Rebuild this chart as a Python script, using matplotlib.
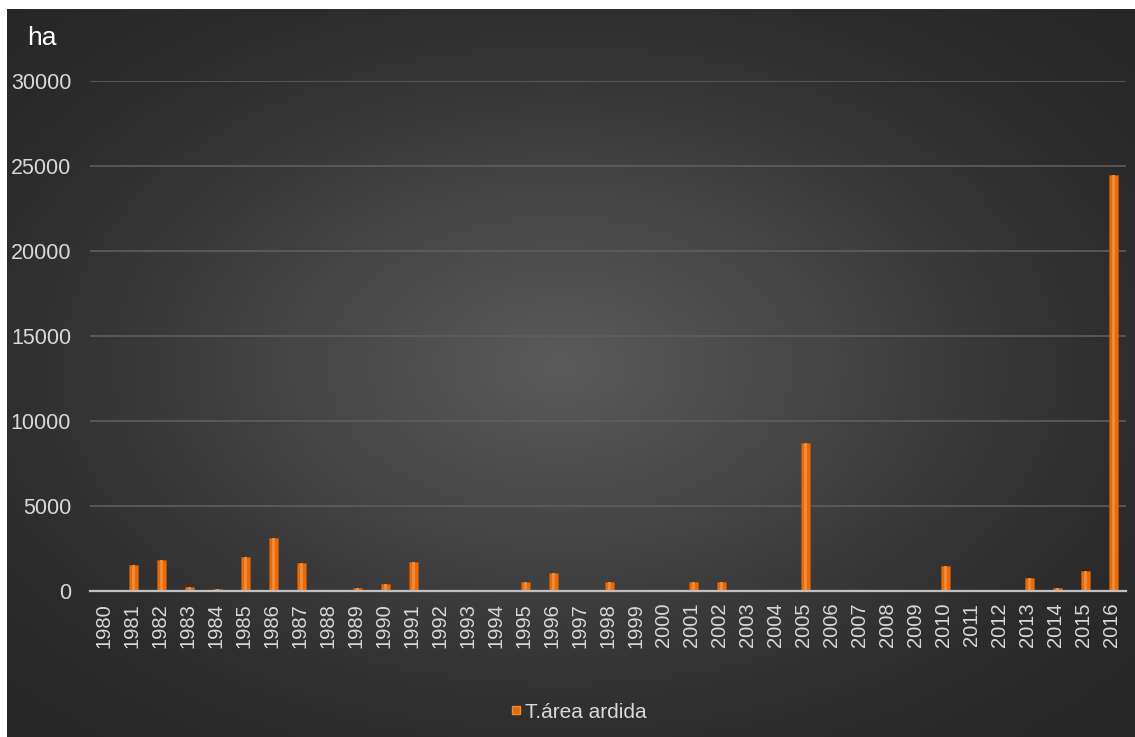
import matplotlib
matplotlib.use("Agg")

import numpy as np
import matplotlib.pyplot as plt
from matplotlib.colors import LinearSegmentedColormap
from matplotlib.lines import Line2D

# -----------------------
# DATA (burnt area, ha)
# -----------------------
years = [str(y) for y in range(1980, 2017)]
area_ardida = [0, 1550, 1850, 220, 120, 2000, 3120, 1650, 0, 150,
               420, 1700, 0, 0, 0, 520, 1050, 0, 520, 0,
               0, 530, 530, 0, 0, 8700, 0, 0, 0, 0,
               1480, 0, 0, 760, 150, 1180, 24480]
yticks = [0, 5000, 10000, 15000, 20000, 25000, 30000]
series_name = "T.área ardida"

# -----------------------
# STYLE
# -----------------------
W, H = 1135, 737
bar_color = "#e46c0a"
text_color = "#d9d9d9"
plt.rcParams['font.family'] = ['Liberation Sans', 'DejaVu Sans']

fig = plt.figure(figsize=(W / 100, H / 100), dpi=100)
fig.patch.set_facecolor("white")

# radial gradient background
bg = fig.add_axes([7 / W, 0, (W - 7) / W, (H - 9) / H])
gx, gy = np.meshgrid(np.linspace(-1, 1, 400), np.linspace(-1, 1, 300))
dist = np.sqrt((gx + 0.02) ** 2 + (gy + 0.02) ** 2)
bg_cmap = LinearSegmentedColormap.from_list("bg", ["#5a5a5a", "#4b4b4b", "#3a3a3a", "#2c2c2c", "#262626"])
bg.imshow(dist, cmap=bg_cmap, vmin=0, vmax=1.42, aspect="auto", interpolation="bilinear")
bg.axis("off")

# main plot
ax = fig.add_axes([90 / W, 1 - 591 / H, (1126 - 90) / W, (591 - 81) / H])
ax.patch.set_alpha(0)
x = np.arange(len(years))
ax.bar(x + 0.05, area_ardida, width=0.34, color=bar_color,
       edgecolor="#b35208", linewidth=0.6, zorder=3)
ax.bar(x + 0.05, area_ardida, width=0.12, color="#f08a35", linewidth=0, zorder=4)

ax.set_xlim(-0.5, len(years) - 0.5)
ax.set_ylim(0, 30000)
ax.set_yticks(yticks)
ax.set_yticklabels([str(v) for v in yticks], fontsize=15.5, color=text_color)
ax.set_xticks(x)
ax.set_xticklabels(years, rotation=90, fontsize=14.5, color=text_color)
ax.tick_params(axis="both", length=0)
ax.tick_params(axis="y", pad=13.5)
ax.tick_params(axis="x", pad=8.5)
ax.grid(axis="y", color="#5e5e5e", linewidth=1.2, zorder=0)
for s in ["top", "right", "left"]:
    ax.spines[s].set_visible(False)
ax.spines["bottom"].set_color("#c0c0c0")
ax.spines["bottom"].set_linewidth(1.6)
ax.spines["bottom"].set_zorder(5)

fig.text(27 / W, 1 - 38 / H, "ha", fontsize=19, color="white", va="center", ha="left")

handle = Line2D([], [], marker="s", linestyle="none", markersize=5.5,
                markerfacecolor=bar_color, markeredgecolor="#f08a35")
leg = fig.legend([handle], [series_name], loc="center", bbox_to_anchor=(577 / W, 1 - 712 / H),
                 frameon=False, fontsize=15, handletextpad=0.05, handlelength=0.8)
for t in leg.get_texts():
    t.set_color(text_color)

fig.savefig("out.png", dpi=100, facecolor=fig.get_facecolor())
